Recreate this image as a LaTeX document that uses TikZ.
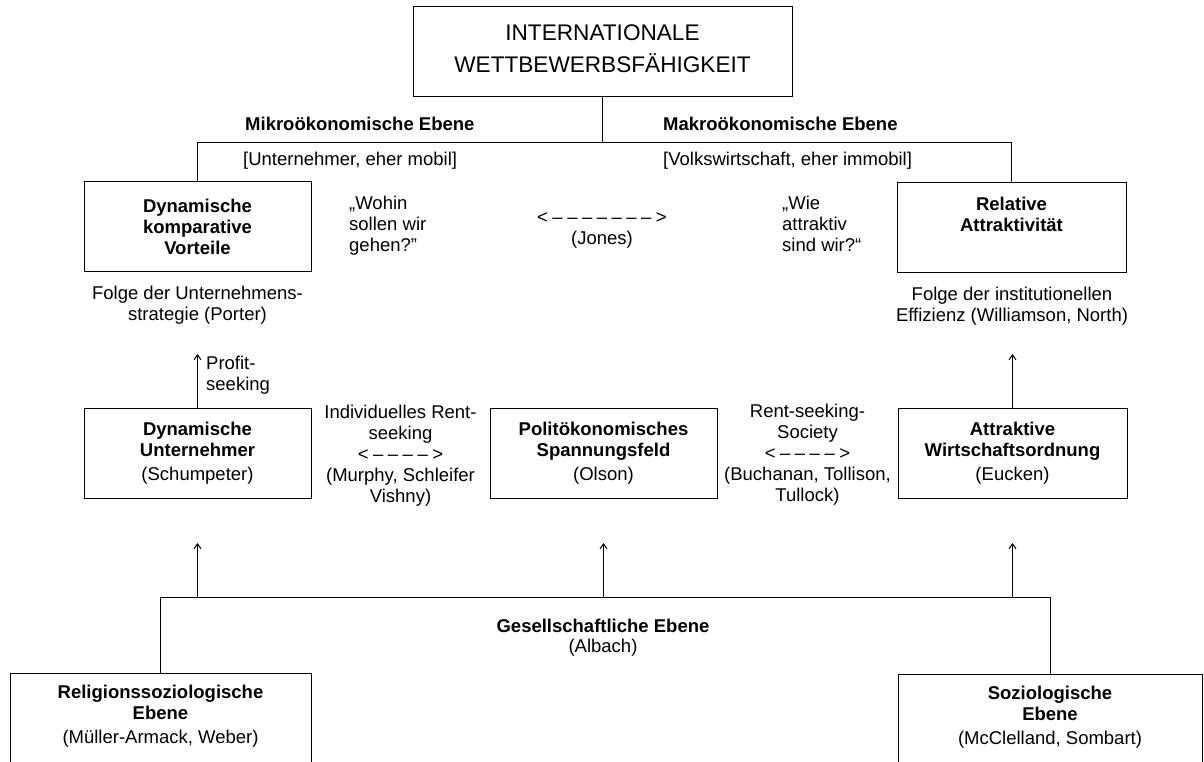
\documentclass[tikz,border=0pt]{standalone}
\usepackage{fontspec}
\setmainfont{Liberation Sans}
\usetikzlibrary{arrows.meta}
\newcommand\myreg{\fontsize{18.5}{21}\selectfont}
\newcommand\mybold{\fontsize{18.5}{21}\selectfont\bfseries}
\newcommand\mytitle{\fontsize{22.6}{32}\selectfont}
\newcommand\dashgap{\kern4.5pt}
\newcommand\longdash{<\dashgap–\dashgap–\dashgap–\dashgap–\dashgap–\dashgap–\dashgap–\dashgap>}
\newcommand\shortdash{<\dashgap–\dashgap–\dashgap–\dashgap–\dashgap>}
\begin{document}
\begin{tikzpicture}[x=1pt,y=-1pt,
  box/.style={draw, line width=1pt, inner sep=0pt, align=center, font=\myreg, minimum height=90pt},
  txt/.style={inner sep=0pt, font=\myreg},
  lbl/.style={inner sep=0pt, font=\mybold},
  conn/.style={line width=1pt},
  arr/.style={line width=1pt, -{Straight Barb[length=5pt,width=7pt]}}]
\useasboundingbox (0,0) rectangle (1204,762);
\clip (0,0) rectangle (1204,762);

% title
\node[box, minimum width=379pt] (title) at (602.5,52) {};
\node[txt, font=\mytitle, align=center] (titlet) at (602.5,49) {INTERNATIONALE\\WETTBEWERBSFÄHIGKEIT};

% level labels
\node[lbl, anchor=west] (mikro) at (245,124) {Mikroökonomische Ebene};
\node[lbl, anchor=west] (makro) at (663,124) {Makroökonomische Ebene};
\node[txt, anchor=west] (unt) at (243,161) {[Unternehmer, eher mobil]};
\node[txt, anchor=west] (volk) at (663,161) {[Volkswirtschaft, eher immobil]};

% upper boxes
\node[box, minimum width=227pt, minimum height=89pt] (dkv) at (197.5,226.5)
  {\textbf{Dynamische}\\\textbf{komparative}\\\textbf{Vorteile}};
\node[box, minimum width=229pt, minimum height=89pt] (ra) at (1011.5,227.5)
  {\textbf{Relative}\\\textbf{Attraktivität}\\\strut};

\node[txt, anchor=north west, align=left] (wohin) at (349,196) {„Wohin\\sollen wir\\gehen?"};
\node[txt, anchor=north west, align=left] (wie) at (782,196) {„Wie\\attraktiv\\sind wir?“};
\node[txt] (jonesarr) at (602,218) {\longdash};
\node[txt] (jones) at (602,240) {(Jones)};

\node[txt, align=center] (folgeL) at (197.5,305) {Folge der Unternehmens-\\strategie (Porter)};
\node[txt, align=center] (folgeR) at (1012,306) {Folge der institutionellen\\Effizienz (Williamson, North)};

% middle boxes
\node[box, minimum width=227pt] (du) at (197.5,453)
  {\textbf{Dynamische}\\\textbf{Unternehmer}\\[3pt](Schumpeter)};
\node[box, minimum width=227pt] (ps) at (603.5,453)
  {\textbf{Politökonomisches}\\\textbf{Spannungsfeld}\\[3pt](Olson)};
\node[box, minimum width=229pt] (aw) at (1012.5,453.5)
  {\textbf{Attraktive}\\\textbf{Wirtschaftsordnung}\\[3pt](Eucken)};

\node[txt, anchor=north west, align=left] (profit) at (206,356) {Profit-\\seeking};
\node[txt, align=center] (indiv) at (400.5,456)
  {Individuelles Rent-\\seeking\\\shortdash\\(Murphy, Schleifer\\Vishny)};
\node[txt, align=center] (society) at (807.5,455)
  {Rent-seeking-\\Society\\\shortdash\\(Buchanan, Tollison,\\Tullock)};

% society level
\node[lbl] (ges) at (603,626) {Gesellschaftliche Ebene};
\node[txt] (albach) at (603,648) {(Albach)};

% bottom boxes
\node[box, anchor=north, minimum width=301pt, minimum height=170pt] (rel) at (160.5,673) {};
\node[txt, anchor=north, align=center] (relt) at (160.5,685)
  {\textbf{Religionssoziologische}\\\textbf{Ebene}\\[3pt](Müller-Armack, Weber)};
\node[box, anchor=north, minimum width=304pt, minimum height=170pt] (soz) at (1050,674) {};
\node[txt, anchor=north, align=center] (sozt) at (1050,686)
  {\textbf{Soziologische}\\\textbf{Ebene}\\[3pt](McClelland, Sombart)};

% connector coordinates
\coordinate (mC) at (602.5,143);
\coordinate (pTip) at (197.5,354);
\coordinate (rTip) at (1012.5,354);
\coordinate (gC) at (603,597);
\coordinate (aTop) at (603,543);

% connectors
\draw[conn] (title.south) -- (mC);
\draw[conn] (dkv.north) -- (dkv.north |- mC) -- (ra.north |- mC) -- (ra.north);
\draw[arr] (du.north) -- (pTip);
\draw[arr] (aw.north) -- (rTip);
\draw[conn] (rel.north) -- (rel.north |- gC) -- (soz.north |- gC) -- (soz.north);
\draw[arr] (du.south |- gC) -- (du.south |- aTop);
\draw[arr] (ps.south |- gC) -- (ps.south |- aTop);
\draw[arr] (aw.south |- gC) -- (aw.south |- aTop);
\end{tikzpicture}
\end{document}
